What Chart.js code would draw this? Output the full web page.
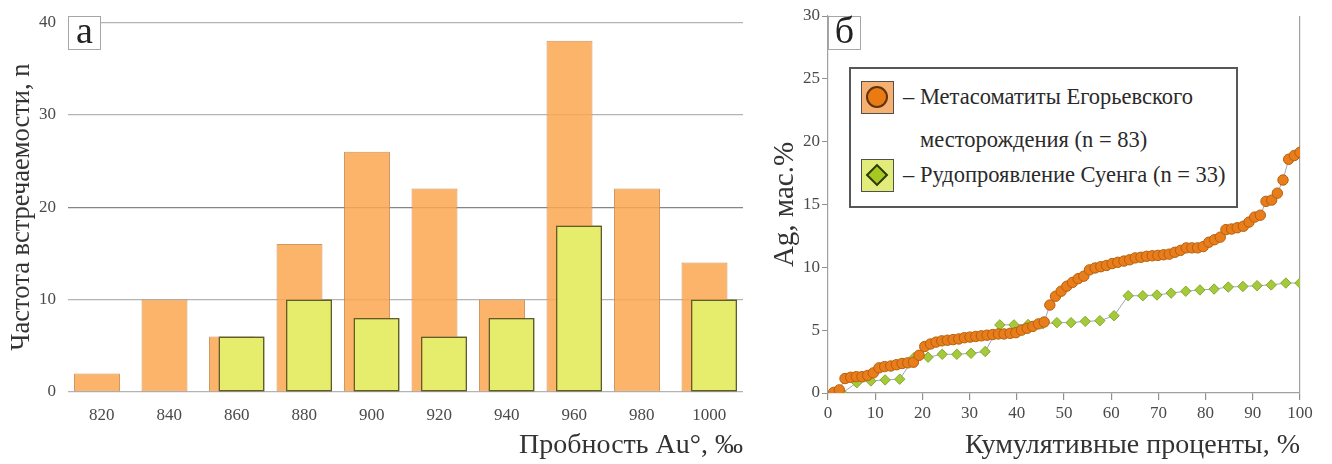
<!DOCTYPE html>
<html lang="ru">
<head>
<meta charset="utf-8">
<title>Пробность золота и содержание серебра</title>
<script src="https://cdn.jsdelivr.net/npm/chart.js@4.4.1/dist/chart.umd.min.js"></script>
<style>
  body { margin: 0; background: #fff; font-family: "Liberation Serif", "Times New Roman", serif; }
  #page { position: relative; width: 1332px; height: 464px; overflow: hidden; }
  .panel { position: absolute; top: 0; height: 464px; }
  #panelA { left: 0; width: 752px; }
  #panelB { left: 752px; width: 580px; }
  .tag {
    position: absolute; box-sizing: border-box; width: 33px; height: 34px;
    border: 1px solid #a6a6a6; background: #fff; color: #222;
    font-size: 38px; line-height: 26px; text-align: center;
  }
  #legend {
    position: absolute; left: 849px; top: 67px; width: 389px; height: 141px;
    box-sizing: border-box; border: 2px solid #575757; background: #fff;
    color: #2a2a2a; font-size: 22.5px;
  }
  #legend .txt { position: absolute; white-space: nowrap; line-height: 24px; }
  .swatch {
    position: absolute; left: 10px; width: 33px; height: 33px; box-sizing: border-box;
    border: 1.5px solid #505050;
  }
  .swatch.orange { top: 12px; background: #f6b072; }
  .swatch.green { top: 90px; background: #e2ec7a; }
  .dot {
    position: absolute; left: 4px; top: 4px; width: 22px; height: 22px; box-sizing: border-box;
    border-radius: 50%; background: #ec7a12; border: 2px solid #5a3510;
  }
  .rhomb {
    position: absolute; left: 7px; top: 7px; width: 16px; height: 16px; box-sizing: border-box;
    background: #a6c820; border: 2px solid #2c3a10; transform: rotate(45deg);
  }
</style>
</head>
<body>
<div id="page">
  <div class="panel" id="panelA"><canvas id="finenessChart" width="752" height="464"></canvas></div>
  <div class="panel" id="panelB"><canvas id="silverChart" width="580" height="464"></canvas></div>
  <div class="tag" style="left:68px; top:16px;">а</div>
  <div class="tag" style="left:828px; top:16px;">б</div>
  <div id="legend">
    <span class="swatch orange"><i class="dot"></i></span>
    <span class="txt" style="left:52px; top:16px;">– Метасоматиты Егорьевского</span>
    <span class="txt" style="left:69px; top:59px;">месторождения (n = 83)</span>
    <span class="swatch green"><i class="rhomb"></i></span>
    <span class="txt" style="left:52px; top:94px;">– Рудопроявление Суенга (n = 33)</span>
  </div>
</div>
<script>
// fineness histogram, ‰
const finenessBins = ['820', '840', '860', '880', '900', '920', '940', '960', '980', '1000'];
const egorFreq = [2, 10, 6, 16, 26, 22, 10, 38, 22, 14];
const suengaFreq = [null, null, 6, 10, 8, 6, 8, 18, null, 10];

// cumulative Ag content, Egorievskoe metasomatites (n = 83)
const egorCumPct = [
  1.2, 2.4, 3.6, 4.8, 6.0, 7.2, 8.4, 9.6, 10.8, 12.0,
  13.3, 14.5, 15.7, 16.9, 18.1, 19.3, 20.5, 21.7, 22.9, 24.1,
  25.3, 26.5, 27.7, 28.9, 30.1, 31.3, 32.5, 33.7, 34.9, 36.1,
  37.3, 38.6, 39.8, 41.0, 42.2, 43.4, 44.6, 45.8, 47.0, 48.2,
  49.4, 50.6, 51.8, 53.0, 54.2, 55.4, 56.6, 57.8, 59.0, 60.2,
  61.4, 62.7, 63.9, 65.1, 66.3, 67.5, 68.7, 69.9, 71.1, 72.3,
  73.5, 74.7, 75.9, 77.1, 78.3, 79.5, 80.7, 81.9, 83.1, 84.3,
  85.5, 86.7, 88.0, 89.2, 90.4, 91.6, 92.8, 94.0, 95.2, 96.4,
  97.6, 98.8, 100
];
const egorAg = [
  0.05, 0.25, 1.15, 1.25, 1.3, 1.3, 1.4, 1.6, 2.0, 2.1,
  2.15, 2.25, 2.35, 2.4, 2.45, 3.0, 3.7, 3.9, 4.05, 4.15,
  4.2, 4.25, 4.3, 4.4, 4.45, 4.5, 4.55, 4.6, 4.65, 4.7,
  4.7, 4.75, 4.8, 5.0, 5.15, 5.3, 5.5, 5.65, 7.0, 7.7,
  8.1, 8.5, 8.8, 9.1, 9.3, 9.8, 9.95, 10.05, 10.15, 10.3,
  10.4, 10.5, 10.6, 10.75, 10.8, 10.88, 10.92, 10.95, 11.0, 11.05,
  11.2, 11.35, 11.55, 11.55, 11.55, 11.65, 12.0, 12.2, 12.4, 13.0,
  13.05, 13.15, 13.27, 13.6, 14.0, 14.15, 15.25, 15.35, 15.9, 16.95,
  18.6, 18.9, 19.15
];

// cumulative Ag content, Suenga occurrence (n = 33)
const suengaCumPct = [
  3.0, 6.1, 9.1, 12.1, 15.2, 18.2, 21.2, 24.2, 27.3, 30.3,
  33.3, 36.4, 39.4, 42.4, 45.5, 48.5, 51.5, 54.5, 57.6, 60.6,
  63.6, 66.7, 69.7, 72.7, 75.8, 78.8, 81.8, 84.8, 87.9, 90.9,
  93.9, 97.0, 100
];
const suengaAg = [
  0, 0.82, 0.96, 1.04, 1.1, 2.8, 2.85, 3.08, 3.08, 3.16,
  3.3, 5.42, 5.42, 5.45, 5.5, 5.6, 5.6, 5.7, 5.75, 6.15,
  7.74, 7.74, 7.8, 7.95, 8.1, 8.2, 8.27, 8.43, 8.48, 8.54,
  8.6, 8.75, 8.75
];

const serif = '"Liberation Serif", "Times New Roman", serif';
const inkColor = '#333';
const tickInk = '#4a4a4a';
const axisGray = '#a0a0a0';

// second series overlaps the first one, so paint it again on top
const suengaOnTop = {
  id: 'suengaOnTop',
  afterDatasetsDraw(chart) {
    const meta = chart.getDatasetMeta(1);
    if (!meta.hidden) meta.controller.draw();
  }
};

new Chart(document.getElementById('finenessChart'), {
  type: 'bar',
  data: {
    labels: finenessBins,
    datasets: [
      {
        label: 'Егорьевское',
        data: egorFreq,
        backgroundColor: 'rgba(251,166,80,0.85)',
        borderColor: 'rgba(205,140,80,0.9)',
        borderWidth: 1,
        borderSkipped: false
      },
      {
        label: 'Суенга',
        data: suengaFreq,
        backgroundColor: '#e6ec6c',
        borderColor: '#5e5e2c',
        borderWidth: 1.5,
        borderSkipped: false
      }
    ]
  },
  options: {
    responsive: false,
    animation: false,
    devicePixelRatio: 1,
    categoryPercentage: 0.2815,
    barPercentage: 4.84,
    layout: { padding: { top: 16, right: 9, left: 0, bottom: 0 } },
    plugins: { legend: { display: false }, tooltip: { enabled: false } },
    scales: {
      x: {
        offset: true,
        grid: { display: false },
        border: { display: false },
        ticks: { color: tickInk, font: { family: serif, size: 17 }, padding: 5 },
        title: {
          display: true, text: 'Пробность Au°, ‰', align: 'end', color: inkColor,
          font: { family: serif, size: 28 }, padding: { top: 0, bottom: 2 }
        },
        afterFit(scale) { scale.height = 72; }
      },
      y: {
        min: 0,
        max: 40,
        ticks: { stepSize: 10, color: tickInk, font: { family: serif, size: 17 }, padding: 12 },
        grid: {
          drawTicks: false,
          lineWidth: 1.2,
          color: ctx => (ctx.tick && ctx.tick.value === 20 ? '#858585' : '#b4b4b4')
        },
        border: { display: false },
        title: {
          display: true, text: 'Частота встречаемости, n', color: inkColor,
          font: { family: serif, size: 26.5 }, padding: { top: 6, bottom: 0 }
        },
        afterFit(scale) { scale.width = 68; }
      }
    }
  },
  plugins: [suengaOnTop]
});

const egorPoints = egorCumPct.map((x, i) => ({ x, y: egorAg[i] }));
const suengaPoints = suengaCumPct.map((x, i) => ({ x, y: suengaAg[i] }));

new Chart(document.getElementById('silverChart'), {
  type: 'scatter',
  data: {
    datasets: [
      {
        label: 'Метасоматиты Егорьевского месторождения (n = 83)',
        data: egorPoints,
        showLine: true,
        borderColor: '#9ea6c0',
        borderWidth: 1,
        pointRadius: 5.2,
        pointBackgroundColor: '#e97d1c',
        pointBorderColor: '#b4600c',
        pointBorderWidth: 1
      },
      {
        label: 'Рудопроявление Суенга (n = 33)',
        data: suengaPoints,
        showLine: true,
        borderColor: '#9ea6c0',
        borderWidth: 1,
        pointStyle: 'rectRot',
        pointRadius: 5.2,
        pointBackgroundColor: '#a4c93a',
        pointBorderColor: '#86a82a',
        pointBorderWidth: 1
      }
    ]
  },
  options: {
    responsive: false,
    animation: false,
    devicePixelRatio: 1,
    layout: { padding: { top: 16, right: 32, left: 0, bottom: 0 } },
    plugins: { legend: { display: false }, tooltip: { enabled: false } },
    scales: {
      x: {
        type: 'linear',
        min: 0,
        max: 100,
        ticks: { stepSize: 10, color: tickInk, font: { family: serif, size: 17 }, padding: 3 },
        grid: {
          lineWidth: 1.2,
          tickLength: 7,
          tickColor: '#909090',
          color: ctx => (ctx.tick && ctx.tick.value === 100 ? axisGray : 'rgba(0,0,0,0)')
        },
        border: { color: axisGray, width: 1.2 },
        title: {
          display: true, text: 'Кумулятивные проценты, %', align: 'end', color: inkColor,
          font: { family: serif, size: 28 }, padding: { top: 0, bottom: 2 }
        },
        afterFit(scale) { scale.height = 71; }
      },
      y: {
        min: 0,
        max: 30,
        ticks: { stepSize: 5, color: tickInk, font: { family: serif, size: 17 }, padding: 2 },
        grid: { drawOnChartArea: false, tickLength: 6, tickColor: '#909090' },
        border: { color: axisGray, width: 1.2 },
        title: {
          display: true, text: 'Ag, мас.%', color: inkColor,
          font: { family: serif, size: 29 }, padding: { top: 16, bottom: 0 }
        },
        afterFit(scale) { scale.width = 76; }
      }
    }
  }
});
</script>
</body>
</html>
